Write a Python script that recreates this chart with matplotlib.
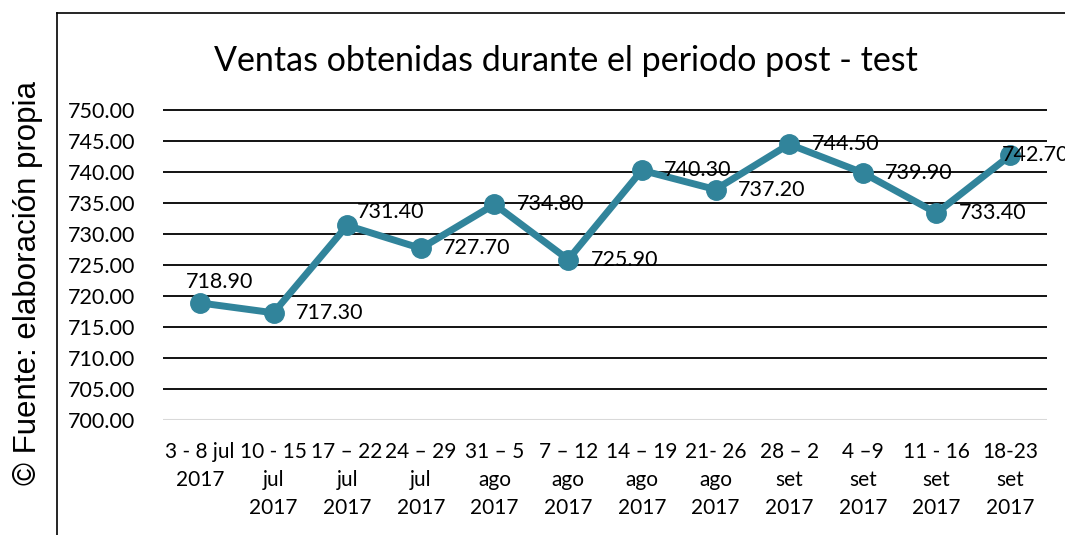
import matplotlib
matplotlib.use("Agg")
import matplotlib.pyplot as plt
from matplotlib.lines import Line2D

# ── Data ──
periods = ["3 - 8 jul\n2017", "10 - 15\njul\n2017", "17 – 22\njul\n2017",
           "24 – 29\njul\n2017", "31 – 5\nago\n2017", "7 – 12\nago\n2017",
           "14 – 19\nago\n2017", "21- 26\nago\n2017", "28 – 2\nset\n2017",
           "4 –9\nset\n2017", "11 - 16\nset\n2017", "18-23\nset\n2017"]
ventas = [718.90, 717.30, 731.40, 727.70, 734.80, 725.90,
          740.30, 737.20, 744.50, 739.90, 733.40, 742.70]
y_ticks = [700, 705, 710, 715, 720, 725, 730, 735, 740, 745, 750]

# label offsets in points (dx, dy, ha)
label_offsets = [(14, 15, "center"), (16, 0, "left"), (7, 10, "left"),
                 (16, 0, "left"), (16, 0, "left"), (16, 0, "left"),
                 (16, 0, "left"), (16, 0, "left"), (16, 0, "left"),
                 (16, 0, "left"), (16, 0, "left"), (-6, 0, "left")]

LINE_COLOR = "#31849B"
plt.rcParams["font.family"] = ["Lato", "DejaVu Sans"]

fig = plt.figure(figsize=(10.65, 5.35), dpi=100)
ax = fig.add_axes([163 / 1065, 1 - 420 / 535, (1047 - 163) / 1065, (420 - 104) / 535])

x = list(range(len(ventas)))
ax.plot(x, ventas, color=LINE_COLOR, linewidth=5, marker="o",
        markersize=14, zorder=3, clip_on=False)

for xi, v, (dx, dy, ha) in zip(x, ventas, label_offsets):
    ax.annotate(f"{v:.2f}", (xi, v), xytext=(dx, dy), textcoords="offset points",
                ha=ha, va="center", fontsize=15.5, color="black", zorder=4,
                annotation_clip=False)

ax.set_xlim(-0.5, len(ventas) - 0.5)
ax.set_ylim(700, 751)
ax.set_yticks(y_ticks)
ax.set_yticklabels([f"{t:.2f}" for t in y_ticks])
ax.set_xticks(x)
ax.set_xticklabels(periods, linespacing=1.5)
ax.tick_params(axis="y", length=0, labelsize=15.5, pad=20)
ax.tick_params(axis="x", length=0, labelsize=15, pad=16)

for t in y_ticks:
    if t == 700:
        ax.axhline(t, color="#d9d9d9", linewidth=1.5, zorder=1)
    else:
        ax.axhline(t, color="black", linewidth=1.3, zorder=1)

for s in ax.spines.values():
    s.set_visible(False)

fig.text(566 / 1065, 1 - 61 / 535, "Ventas obtenidas durante el periodo post - test",
         ha="center", va="center", fontsize=24.5)

fig.text(28 / 1065, 1 - 283 / 535, "© Fuente: elaboración propia", rotation=90,
         ha="center", va="center", fontsize=22.5, family=["Liberation Sans", "DejaVu Sans"])

# outer frame
fig.add_artist(Line2D([57 / 1065, 57 / 1065], [0, 1 - 13 / 535], color="black",
                      linewidth=1.2, transform=fig.transFigure))
fig.add_artist(Line2D([57 / 1065, 1], [1 - 13 / 535, 1 - 13 / 535], color="black",
                      linewidth=1.2, transform=fig.transFigure))

fig.savefig("out.png", dpi=100)
